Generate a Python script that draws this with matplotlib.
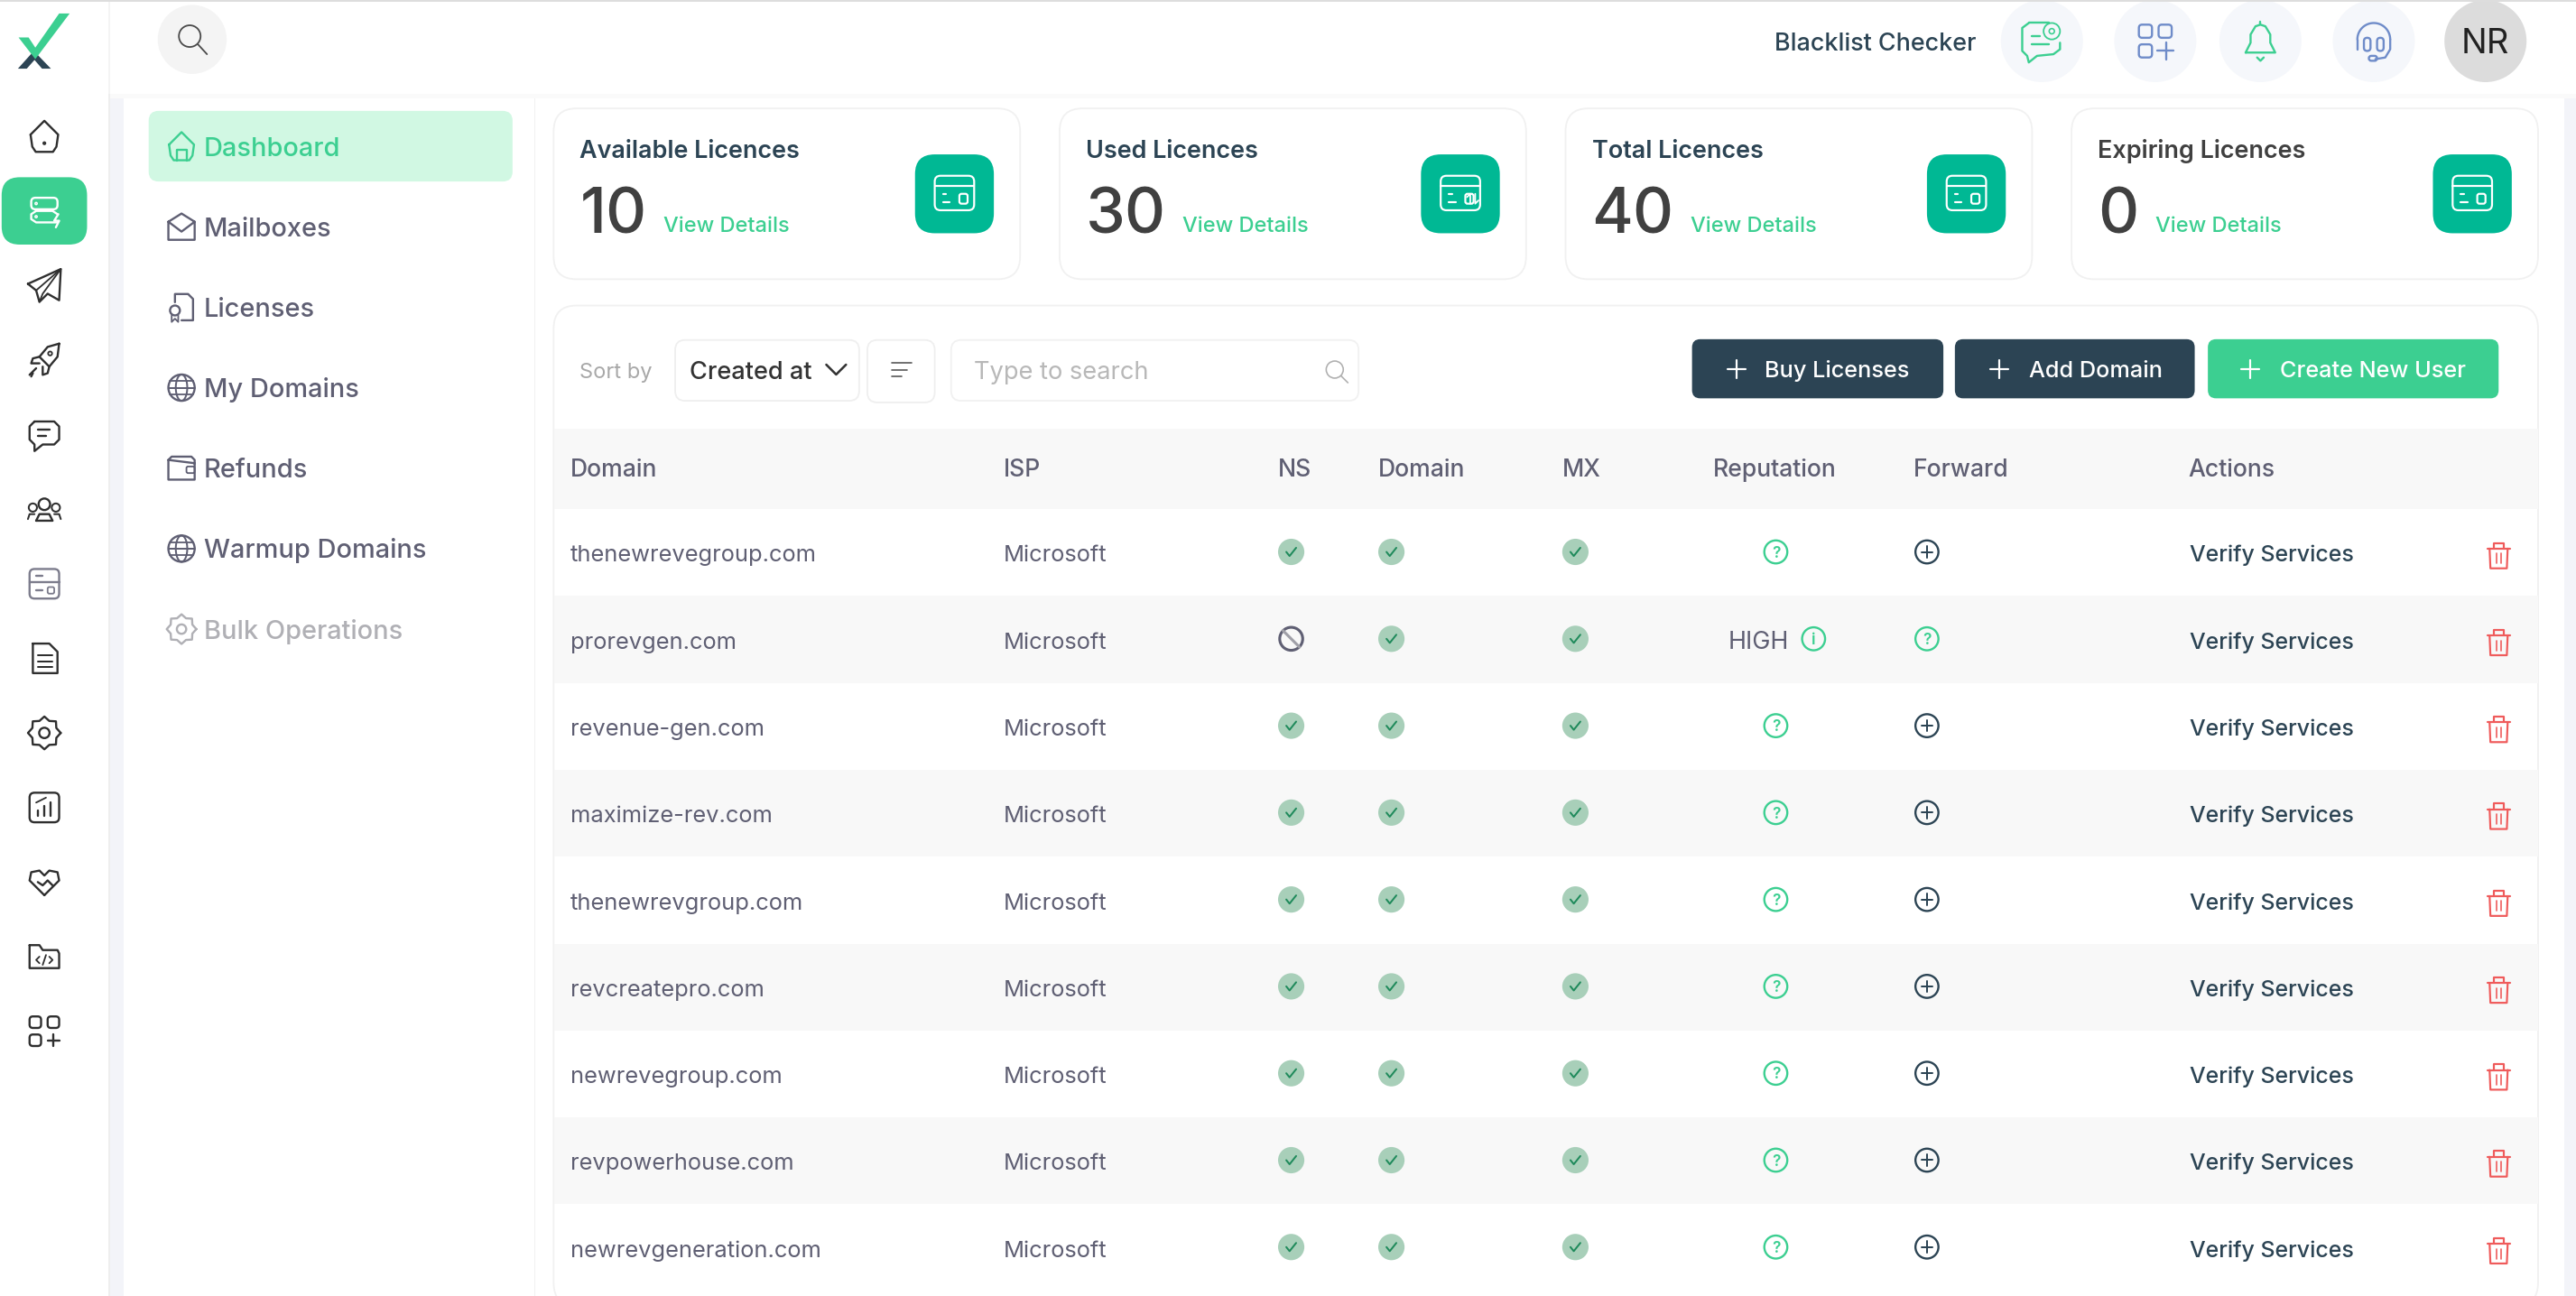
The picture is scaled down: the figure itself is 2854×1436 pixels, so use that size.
#!/usr/bin/env python3
import numpy as np
import matplotlib
matplotlib.use("Agg")
import matplotlib.pyplot as plt
from matplotlib.patches import Circle, FancyBboxPatch, Polygon, Rectangle

plt.rcParams['font.family'] = ['Inter', 'DejaVu Sans']

# screen content
rail_icons = ['home', 'server', 'plane', 'rocket', 'chat', 'users', 'panel', 'doc', 'gear', 'chart', 'heart', 'folder', 'apps']
nav_labels = ['Dashboard', 'Mailboxes', 'Licenses', 'My Domains', 'Refunds', 'Warmup Domains', 'Bulk Operations']
nav_icons = ['home', 'mail', 'license', 'globe', 'wallet', 'globe', 'gear']

card_titles = ['Available Licences', 'Used Licences', 'Total Licences', 'Expiring Licences']
card_values = ['10', '30', '40', '0']
card_links = [404, 720, 1029, 1312]

buttons = ['Buy Licenses', 'Add Domain', 'Create New User']
headers = ['Domain', 'ISP', 'NS', 'Domain', 'MX', 'Reputation', 'Forward', 'Actions']
header_x = [347, 611, 778, 839, 951, 1043, 1165, 1332]

domains = ['thenewrevegroup.com', 'prorevgen.com', 'revenue-gen.com', 'maximize-rev.com', 'thenewrevgroup.com',
           'revcreatepro.com', 'newrevegroup.com', 'revpowerhouse.com', 'newrevgeneration.com']
isp = ['Microsoft'] * 9
ns_ok = [1, 0, 1, 1, 1, 1, 1, 1, 1]
reputation = ['?', 'HIGH', '?', '?', '?', '?', '?', '?', '?']
forward = ['+', '?', '+', '+', '+', '+', '+', '+', '+']

GREEN = '#3ccf91'
NAVY = '#2c4454'
GREY = '#5f5f73'
TEAL = '#00b894'
BLUE = '#6f8cc9'
RED = '#ef5b5b'
PT = 1.82 * 0.72  # points per screen unit

fig = plt.figure(figsize=(28.54, 14.36), dpi=100)
ax = fig.add_axes([0, 0, 1, 1])
ax.set_xlim(0, 1568.1)
ax.set_ylim(789, 0)
ax.axis('off')


def txt(x, y, s, size, color, weight='normal', ha='left'):
    ax.text(x, y, s, fontsize=size * PT, color=color, fontweight=weight, ha=ha, va='baseline')


def box(x0, y0, x1, y1, r, fc, ec='none', lw=1.0, z=1):
    ax.add_patch(FancyBboxPatch((x0, y0), x1 - x0, y1 - y0, boxstyle=f'round,pad=0,rounding_size={r}',
                                fc=fc, ec=ec, lw=lw * PT, zorder=z))


def rect(x0, y0, x1, y1, fc, z=1):
    ax.add_patch(Rectangle((x0, y0), x1 - x0, y1 - y0, fc=fc, ec='none', zorder=z))


def line(cx, cy, pts, color, lw=1.3, z=5):
    p = np.array(pts, dtype=float)
    ax.plot(cx + p[:, 0], cy + p[:, 1], color=color, lw=lw * PT, solid_capstyle='round', solid_joinstyle='round', zorder=z)


def ring(cx, cy, r, color, lw=1.3, fc='none', z=5):
    ax.add_patch(Circle((cx, cy), r, fc=fc, ec=color, lw=lw * PT, zorder=z))


def rbox(cx, cy, x0, y0, x1, y1, r, color, lw=1.3, z=5):
    box(cx + x0, cy + y0, cx + x1, cy + y1, r, 'none', color, lw, z)


def icon(name, x, y, c, s=1.0):
    lw = 1.3
    if name == 'home':
        line(x, y, [(-8*s, -1*s), (0, -9*s), (8*s, -1*s), (7*s, 6*s), (5*s, 9*s), (-5*s, 9*s), (-7*s, 6*s), (-8*s, -1*s)], c, lw)
        if s > 1:
            ring(x, y + 4*s, 0.5, c, lw)
        else:
            line(x, y, [(-3, 9), (-3, 2), (3, 2), (3, 9)], c, lw)
    elif name == 'server':
        rbox(x, y, -8, -8, 8, -1, 2.5, c, lw)
        line(x, y, [(8, 7), (-5, 7), (-8, 5), (-8, 2), (-5, 0), (5, 0), (8, 2)], c, lw)
        ring(x - 5, y - 4.5, .4, c)
        ring(x - 5, y + 3.5, .4, c)
        line(x, y, [(8.5, 2), (6, 6), (9, 6), (7, 10)], c, lw)
    elif name == 'plane':
        line(x, y, [(-10, -1), (10, -10), (9, 9), (2, 5), (-3, 10), (-5, 3), (-10, -1)], c, lw)
        line(x, y, [(10, -10), (-5, 3)], c, 1)
        line(x, y, [(10, -10), (-1, 5), (-3, 10)], c, 1)
    elif name == 'rocket':
        line(x, y, [(9, -10), (2, -8), (-3, -2), (3, 4), (8, -2), (9, -10)], c, lw)
        line(x, y, [(-3, -2), (-7, -1), (-8, 2), (-3, 2)], c, lw)
        line(x, y, [(3, 4), (2, 8), (-1, 9), (-1, 4)], c, lw)
        ring(x + 3.5, y - 4, 1.2, c, 1)
        line(x, y, [(-5, 5), (-9, 9)], c, lw)
        line(x, y, [(-7, 8), (-8, 10)], c, lw)
    elif name == 'chat':
        line(x, y, [(-6, -8), (6, -8), (9, -5), (9, 3), (6, 6), (-1, 6), (-6, 10), (-6, 6), (-9, 3), (-9, -5), (-6, -8)], c, lw)
        line(x, y, [(-4, -3), (3, -3)], c, lw)
        line(x, y, [(-4, 1), (1, 1)], c, lw)
    elif name == 'users':
        ring(x, y - 3, 3.5, c, lw)
        ring(x - 7, y - 1, 2.5, c, 1.1)
        ring(x + 7, y - 1, 2.5, c, 1.1)
        line(x, y, [(-5, 7), (-3, 3), (3, 3), (5, 7), (-5, 7)], c, lw)
        line(x, y, [(-10, 6), (-9, 3), (-6, 3)], c, 1.1)
        line(x, y, [(10, 6), (9, 3), (6, 3)], c, 1.1)
    elif name == 'panel':
        rbox(x, y, -9, -9, 9, 9, 3, '#7c7c8c', lw)
        line(x, y, [(-9, -1), (9, -1)], '#7c7c8c', lw)
        line(x, y, [(-5, -5), (-1, -5)], '#7c7c8c', lw)
        rbox(x, y, 2, 2, 6, 6, 1, '#7c7c8c', 1)
        line(x, y, [(-5, 4), (-1, 4)], '#7c7c8c', lw)
    elif name == 'doc':
        line(x, y, [(-7, -9), (3, -9), (8, -4), (8, 9), (-7, 9), (-7, -9)], c, lw)
        for dy in (-2, 2, 5):
            line(x, y, [(-4, dy), (5, dy)], c, 1.1)
    elif name == 'gear':
        ang = np.linspace(0, 2 * np.pi, 17)
        rad = np.where(np.arange(17) % 2 == 0, 9.5 * s, 7.5 * s)
        line(x, y, np.c_[rad * np.cos(ang), rad * np.sin(ang)], c, lw)
        ring(x, y, 3 * s, c, lw)
    elif name == 'chart':
        rbox(x, y, -9, -9, 9, 9, 3, c, lw)
        for bx, top in ((-4, 2), (0, -1), (4, -3)):
            line(x, y, [(bx, 5), (bx, top)], c, lw)
        line(x, y, [(-5, -3), (-1, -5), (1, -6)], c, 1)
    elif name == 'heart':
        line(x, y, [(0, 8), (-9, -1), (-8, -6), (-3, -7), (0, -4), (3, -7), (8, -6), (9, -1), (0, 8)], c, lw)
        line(x, y, [(-4, 0), (-1, 2), (2, -1), (5, 2)], c, lw)
    elif name == 'folder':
        line(x, y, [(-9, -7), (-3, -7), (-1, -4), (8, -4), (9, -2), (9, 7), (-9, 7), (-9, -7)], c, lw)
        line(x, y, [(-3, 0), (-5, 2), (-3, 4)], c, 1)
        line(x, y, [(3, 0), (5, 2), (3, 4)], c, 1)
        line(x, y, [(1, -1), (-1, 5)], c, 1)
    elif name == 'apps':
        rbox(x, y, -9, -9, -2, -2, 2, c, lw)
        rbox(x, y, 2, -9, 9, -2, 2, c, lw)
        rbox(x, y, -9, 2, -2, 9, 2, c, lw)
        line(x, y, [(5.5, 2), (5.5, 9)], c, lw)
        line(x, y, [(2, 5.5), (9, 5.5)], c, lw)
    elif name == 'mail':
        line(x, y, [(-8, -3), (0, -8), (8, -3), (8, 8), (-8, 8), (-8, -3), (0, 3), (8, -3)], c, lw)
    elif name == 'license':
        line(x, y, [(-4, -3), (-4, -8), (4, -8), (7, -5), (7, 8), (0, 8)], c, lw)
        ring(x - 4, y + 2, 3, c, lw)
        line(x, y, [(-6, 5), (-6, 9), (-4, 7), (-2, 9), (-2, 5)], c, 1)
    elif name == 'globe':
        ring(x, y, 8, c, lw)
        line(x, y, [(-8, 0), (8, 0)], c, 1.1)
        line(x, y, [(-7, -4), (7, -4)], c, 1)
        line(x, y, [(-7, 4), (7, 4)], c, 1)
        t = np.linspace(-np.pi / 2, np.pi / 2, 20)
        line(x, y, np.c_[3.5 * np.cos(t), 8 * np.sin(t)], c, 1.1)
        line(x, y, np.c_[-3.5 * np.cos(t), 8 * np.sin(t)], c, 1.1)
    elif name == 'wallet':
        line(x, y, [(-8, -5), (-6, -7), (6, -7), (8, -5), (8, 7), (-8, 7), (-8, -5), (8, -3)], c, lw)
        rbox(x, y, 3, -1, 8, 3, 1, c, 1)
    elif name == 'card':
        rbox(x, y, -12, -11, 12, 10, 3.5, c, 1.2)
        line(x, y, [(-12, -5), (12, -5)], c, 1.2)
        line(x, y, [(-7, 0), (-5, 0)], c, 1.2)
        line(x, y, [(-7, 5), (-3, 5)], c, 1.2)
        rbox(x, y, 3, 0, 8, 6, 1.3, c, 1.2)


# page background
rect(0, 0, 1568.1, 789, 'white', 0)
rect(66, 57, 75, 789, '#f3f4f9')
rect(1561, 57, 1568.1, 789, '#f3f4f9')
rect(0, 0, 1568.1, 1, '#dddddd', 6)
rect(66, 57, 1568.1, 60, '#fafafa', 2)
rect(66, 57, 67, 789, '#eeeeee', 2)
rect(66, 0, 67, 57, '#f4f4f4', 2)
rect(325, 60, 326, 789, '#f1f1f1')

# logo
ax.add_patch(Polygon([(10.9, 41.8), (20.6, 31), (31, 41.8), (25.6, 41.8), (21, 36.5), (16.3, 41.8)], fc=NAVY, ec='none', zorder=3))
ax.add_patch(Polygon([(36, 8.2), (42.4, 8.2), (21.5, 36), (11.3, 22.8), (17.4, 22.8), (21.5, 29)], fc=GREEN, ec='none', zorder=4))

# left rail
for i, name in enumerate(rail_icons):
    y = 83 + i * 45.4
    c = '#2f2f2f'
    if name == 'server':
        box(1, y - 20.5, 53, y + 20.5, 11, GREEN)
        c = 'white'
    icon(name, 27, y, c, 1.05)

# header bar
ring(117, 24, 21, 'none', 0, '#f4f4f4', 2)
ring(115.5, 22, 6.6, '#4a4a4a', 1.0)
line(117, 24, [(3.5, 3), (9, 9)], '#4a4a4a', 1.0)
txt(1080, 31, 'Blacklist Checker', 14.8, NAVY, 'medium')
for hx in (1243, 1312, 1376, 1445):
    ring(hx, 25, 25, 'none', 0, '#f5f7fb', 2)
line(1243, 25, [(-8, -11), (4, -11)], GREEN)
line(1243, 25, [(-8, -11), (-12, -8), (-12, 6), (-9, 9), (-8, 13), (-3, 9), (7, 8), (11, 5), (11, 1)], GREEN)
line(1243, 25, [(-6, -3), (-1, -3)], GREEN)
line(1243, 25, [(-6, 2), (4, 2)], GREEN)
ring(1249, 19, 5, GREEN, 1.0, 'none')
ring(1249, 19, 1.6, GREEN, .9, 'none')
for dx, dy in ((-10, -10), (2, -10), (-10, 2)):
    rbox(1312, 25, dx, dy, dx + 8, dy + 8, 2, BLUE)
line(1312, 25, [(6.5, 1), (6.5, 11)], BLUE)
line(1312, 25, [(1, 6), (11, 6)], BLUE)
line(1376, 25, [(-9, 7), (-6, 1), (-6, -4), (-3, -9), (0, -10), (3, -9), (6, -4), (6, 1), (9, 7), (-9, 7)], GREEN)
line(1376, 25, [(0, -10), (0, -12)], GREEN)
line(1376, 25, [(-2, 10), (0, 12), (2, 10)], GREEN)
t = np.linspace(np.pi, 2 * np.pi, 30)
line(1445, 25, np.c_[10 * np.cos(t), -1 + 10 * np.sin(t)], BLUE)
line(1445, 25, [(-10, -1), (-10, 5)], BLUE)
line(1445, 25, [(10, -1), (10, 5), (7, 10), (1, 11)], BLUE)
rbox(1445, 25, -6, -2, -2, 6, 2, BLUE)
rbox(1445, 25, 2, -2, 6, 6, 2, BLUE)
rbox(1445, 25, -3, 9, 2, 12, 1.5, BLUE)
ring(1513, 25, 25, 'none', 0, '#dcdcdc', 2)
ax.text(1513, 32.5, 'NR', fontsize=21 * PT, color='#222222', ha='center', va='baseline', zorder=5)

# second nav panel
box(90.5, 67.5, 312, 110.5, 6, '#d1f8e3')
for i, (label, name) in enumerate(zip(nav_labels, nav_icons)):
    y = 89 + i * 49
    c = GREY
    tc = GREY
    if i == 0:
        c = tc = GREEN
    if i == 6:
        c = tc = '#b0b0b5'
    icon(name, 110.5, y, c, 0.95)
    txt(124, y + 5.8, label, 15.9, tc, 'medium')

# licence cards
for i, (title, val, link) in enumerate(zip(card_titles, card_values, card_links)):
    x0 = 337 + i * 308
    box(x0, 66, x0 + 284, 170, 14, 'white', '#f1f1f1', 1.0)
    tc = NAVY if i < 3 else '#404040'
    txt(x0 + 16, 96, title, 14.8, tc, 'semibold')
    txt(x0 + 16, 142, val, 38.5, '#404040', 'medium')
    txt(link, 141, 'View Details', 13, GREEN, 'medium')
    box(x0 + 220, 94, x0 + 268, 142, 12, TEAL, z=3)
    icon('card', x0 + 244, 118, 'white')
    if i == 1:
        line(x0 + 244, 118, [(6, 6), (6, 0), (4, 2)], 'white', 1)
        line(x0 + 244, 118, [(9, 0), (9, 6), (11, 4)], 'white', 1)

# filter row
box(337, 186, 1545, 795, 14, 'white', '#f1f1f1', 1.0, z=1)
txt(353, 230, 'Sort by', 13, '#a8a8a8')
box(411, 207, 523, 244, 6, 'white', '#efefef')
txt(420, 231, 'Created at', 14.9, '#333333', 'medium')
line(509, 225, [(-6, -3), (0, 3), (6, -3)], '#333333', 1.4)
box(528, 207, 569, 245, 6, 'white', '#efefef')
line(549, 225, [(-6, -4), (6, -4)], '#555555', 0.9)
line(549, 225, [(-6, 0), (3, 0)], '#555555', 0.9)
line(549, 225, [(-6, 4), (0, 4)], '#555555', 0.9)
box(579, 207, 827, 244, 6, 'white', '#f1f1f1')
txt(593, 231, 'Type to search', 15, '#b8b8b8')
ring(812.5, 225, 5.2, '#b0b0b0', .9)
line(812.5, 225, [(3.7, 3.7), (8, 8)], '#b0b0b0', .9)

button_x = [(1030, 1183, 1057, 1074), (1190, 1336, 1217, 1235), (1344, 1521, 1370, 1388)]
for label, (x0, x1, px, tx), fc in zip(buttons, button_x, [NAVY, NAVY, GREEN]):
    box(x0, 206.5, x1, 242.5, 5, fc)
    line(px, 224.5, [(-5.5, 0), (5.5, 0)], 'white', 1.2)
    line(px, 224.5, [(0, -5.5), (0, 5.5)], 'white', 1.2)
    txt(tx, 229.5, label, 13.9, 'white', 'medium')

# table
rect(337.5, 261, 1545, 310, '#f8f8f8', 2)
for x, label in zip(header_x, headers):
    txt(x, 290, label, 14.6, GREY, 'medium')


def status(x, y, kind):
    if kind == 'ok':
        ring(x, y, 8, 'none', 0, '#a8cfb9')
        line(x, y, [(-3, 0), (-1, 2.5), (3, -2.5)], '#1f8a5b', 1.1, 6)
    elif kind == 'ban':
        ring(x, y, 7, GREY, 1.7)
        line(x, y, [(-5, -5), (5, 5)], '#a0a0a8', 1.7)
    elif kind == '?':
        ring(x, y, 7, GREEN, 1.3)
        ax.text(x, y + 3.4, '?', fontsize=9.5 * PT, color=GREEN, fontweight='semibold', ha='center', va='baseline', zorder=6)
    elif kind == '+':
        ring(x, y, 7, NAVY, 1.3)
        line(x, y, [(-3.5, 0), (3.5, 0)], NAVY, 1.1)
        line(x, y, [(0, -3.5), (0, 3.5)], NAVY, 1.1)
    elif kind == 'i':
        ring(x, y, 7, GREEN, 1.3)
        ax.text(x, y + 3.4, 'i', fontsize=9.5 * PT, color=GREEN, fontweight='semibold', ha='center', va='baseline', zorder=6)


def trash(x, y):
    line(x, y, [(-7, -4), (7, -4)], RED, 1.2)
    line(x, y, [(-3, -4), (-3, -7.5), (3, -7.5), (3, -4)], RED, 1.2)
    line(x, y, [(-5.5, -4), (-5, 8), (5, 8), (5.5, -4)], RED, 1.2)
    line(x, y, [(-1.5, -1), (-1.5, 5)], RED, .9)
    line(x, y, [(1.5, -1), (1.5, 5)], RED, .9)


for i, dom in enumerate(domains):
    top = 310 + i * 52.9
    y = top + 26.5
    if i % 2 == 1:
        rect(337.5, top, 1545, top + 52.9, '#f8f8f8', 2)
    txt(347, y + 5.5, dom, 14, GREY)
    txt(611, y + 5.5, isp[i], 14, GREY)
    status(786, y - .5, 'ok' if ns_ok[i] else 'ban')
    status(847, y - .5, 'ok')
    status(959, y - .5, 'ok')
    if reputation[i] == '?':
        status(1081, y - .5, '?')
    else:
        txt(1052, y + 5.5, reputation[i], 14.8, GREY)
        status(1104, y - .5, 'i')
    status(1173, y - .5, forward[i])
    txt(1333, y + 5.5, 'Verify Services', 13.7, NAVY, 'medium')
    trash(1521, y + 1.5)

fig.savefig('out.png', dpi=100)
